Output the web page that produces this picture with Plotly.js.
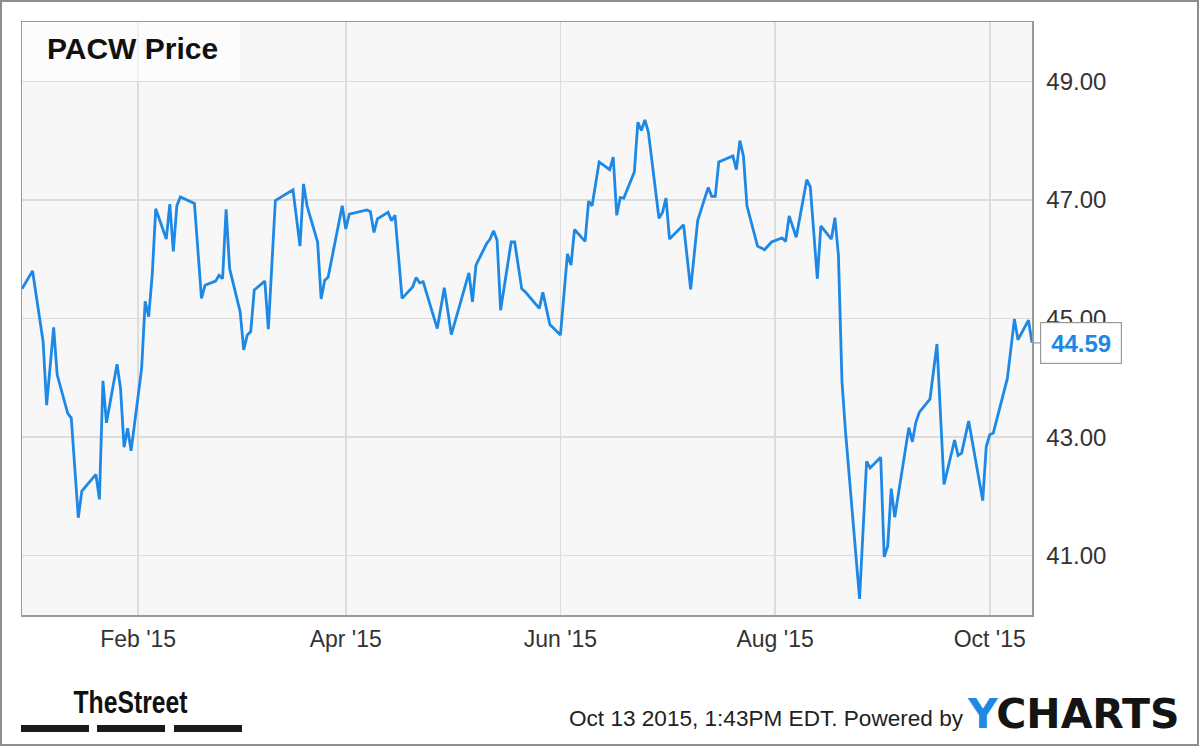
<!DOCTYPE html>
<html>
<head>
<meta charset="utf-8">
<script src="https://cdn.plot.ly/plotly-3.0.1.min.js"></script>
<style>
  body { margin: 0; background: #fff; }
  #chart { width: 1200px; height: 747px; }
  #frame { position: absolute; left: 0; top: 0; width: 1199px; height: 746px;
           border: 2px solid #8e8e8e; box-sizing: border-box; pointer-events: none; }
</style>
</head>
<body>
<div id="chart"></div>
<div id="frame"></div>
<script>
// PACW daily close
var dates = [
  '2014-12-30', '2015-01-02', '2015-01-05', '2015-01-06', '2015-01-08', '2015-01-09',
  '2015-01-12', '2015-01-13', '2015-01-15', '2015-01-16', '2015-01-20', '2015-01-21',
  '2015-01-22', '2015-01-23', '2015-01-26', '2015-01-27', '2015-01-28', '2015-01-29',
  '2015-01-30', '2015-02-02', '2015-02-03', '2015-02-04', '2015-02-05', '2015-02-06',
  '2015-02-09', '2015-02-10', '2015-02-11', '2015-02-12', '2015-02-13', '2015-02-17',
  '2015-02-19', '2015-02-20', '2015-02-23', '2015-02-24', '2015-02-25', '2015-02-26',
  '2015-02-27', '2015-03-02', '2015-03-03', '2015-03-04', '2015-03-05', '2015-03-06',
  '2015-03-09', '2015-03-10', '2015-03-12', '2015-03-16', '2015-03-17', '2015-03-19',
  '2015-03-20', '2015-03-21', '2015-03-24', '2015-03-25', '2015-03-26', '2015-03-27',
  '2015-03-31', '2015-04-01', '2015-04-02', '2015-04-07', '2015-04-08', '2015-04-09',
  '2015-04-10', '2015-04-13', '2015-04-14', '2015-04-15', '2015-04-17', '2015-04-20',
  '2015-04-21', '2015-04-22', '2015-04-23', '2015-04-27', '2015-04-29', '2015-05-01',
  '2015-05-06', '2015-05-07', '2015-05-08', '2015-05-11', '2015-05-12', '2015-05-13',
  '2015-05-14', '2015-05-15', '2015-05-18', '2015-05-19', '2015-05-21', '2015-05-22',
  '2015-05-26', '2015-05-27', '2015-05-29', '2015-06-01', '2015-06-03', '2015-06-04',
  '2015-06-05', '2015-06-08', '2015-06-09', '2015-06-10', '2015-06-12', '2015-06-15',
  '2015-06-16', '2015-06-17', '2015-06-18', '2015-06-19', '2015-06-22', '2015-06-23',
  '2015-06-24', '2015-06-25', '2015-06-26', '2015-06-29', '2015-06-30', '2015-07-01',
  '2015-07-02', '2015-07-06', '2015-07-08', '2015-07-10', '2015-07-13', '2015-07-14',
  '2015-07-15', '2015-07-16', '2015-07-20', '2015-07-21', '2015-07-22', '2015-07-23',
  '2015-07-24', '2015-07-27', '2015-07-29', '2015-07-31', '2015-08-03', '2015-08-04',
  '2015-08-05', '2015-08-07', '2015-08-10', '2015-08-11', '2015-08-13', '2015-08-14',
  '2015-08-17', '2015-08-18', '2015-08-19', '2015-08-20', '2015-08-21', '2015-08-25',
  '2015-08-27', '2015-08-28', '2015-08-31', '2015-09-01', '2015-09-02', '2015-09-03',
  '2015-09-04', '2015-09-08', '2015-09-09', '2015-09-10', '2015-09-11', '2015-09-14',
  '2015-09-16', '2015-09-18', '2015-09-21', '2015-09-22', '2015-09-23', '2015-09-25',
  '2015-09-29', '2015-09-30', '2015-10-01', '2015-10-02', '2015-10-06', '2015-10-08',
  '2015-10-09', '2015-10-12', '2015-10-13'
];
var prices = [
  45.50, 45.80, 44.61, 43.54, 44.85, 44.05,
  43.40, 43.32, 41.64, 42.09, 42.37, 41.95,
  43.95, 43.24, 44.23, 43.82, 42.83, 43.15,
  42.77, 44.16, 45.29, 45.03, 45.73, 46.85,
  46.34, 46.93, 46.13, 46.90, 47.05, 46.94,
  45.34, 45.56, 45.63, 45.73, 45.67, 46.84,
  45.84, 45.11, 44.47, 44.72, 44.78, 45.48,
  45.63, 44.82, 46.99, 47.13, 47.17, 46.22,
  47.27, 46.90, 46.29, 45.33, 45.64, 45.70,
  46.90, 46.51, 46.76, 46.83, 46.80, 46.45,
  46.68, 46.79, 46.65, 46.74, 45.34, 45.53,
  45.69, 45.60, 45.62, 44.83, 45.52, 44.73,
  45.77, 45.28, 45.90, 46.26, 46.34, 46.48,
  46.32, 45.14, 46.29, 46.29, 45.50, 45.45,
  45.17, 45.44, 44.90, 44.72, 46.09, 45.90,
  46.50, 46.30, 46.98, 46.90, 47.64, 47.51,
  47.72, 46.74, 47.04, 47.03, 47.47, 48.31,
  48.17, 48.35, 48.14, 46.69, 46.79, 47.03,
  46.34, 46.58, 45.49, 46.65, 47.21, 47.06,
  47.06, 47.64, 47.74, 47.51, 48.00, 47.74,
  46.90, 46.22, 46.16, 46.29, 46.36, 46.30,
  46.73, 46.37, 47.34, 47.22, 45.67, 46.56,
  46.34, 46.70, 46.06, 43.94, 43.10, 40.27,
  42.59, 42.48, 42.66, 40.98, 41.16, 42.13,
  41.65, 43.16, 42.92, 43.25, 43.42, 43.64,
  44.57, 42.20, 42.95, 42.69, 42.73, 43.27,
  41.93, 42.84, 43.04, 43.07, 43.99, 44.99,
  44.64, 44.97, 44.59
];
var tickDates = ['2015-02-01', '2015-04-01', '2015-06-01', '2015-08-01', '2015-10-01'];
var tickLabels = ["Feb '15", "Apr '15", "Jun '15", "Aug '15", "Oct '15"];
var yTicks = [41, 43, 45, 47, 49];

var lastDate = dates[dates.length - 1];
var lastPrice = prices[prices.length - 1];
var blue = '#1e88e5';
var footerText = 'Oct 13 2015, 1:43PM EDT. Powered by';

var trace = {
  x: dates,
  y: prices,
  type: 'scatter',
  mode: 'lines',
  line: { color: blue, width: 2.8 },
  hoverinfo: 'skip'
};

var bar = function (x0, x1) {
  return { type: 'rect', xref: 'paper', yref: 'paper', x0: x0, x1: x1, y0: -0.1973, y1: -0.1855,
           fillcolor: '#1a1a1a', line: { width: 0 } };
};

var layout = {
  width: 1200,
  height: 747,
  margin: { l: 22, r: 168, t: 22, b: 132 },
  paper_bgcolor: '#ffffff',
  plot_bgcolor: '#f7f7f7',
  showlegend: false,
  font: { family: 'Liberation Sans, Arial, sans-serif', color: '#333', size: 24 },
  xaxis: {
    type: 'date',
    range: ['2014-12-30', lastDate],
    tickvals: tickDates,
    ticktext: tickLabels,
    ticks: '',
    ticklabelstandoff: 3,
    showgrid: true,
    gridcolor: '#dcdcdc',
    gridwidth: 1.5,
    zeroline: false,
    showline: true,
    linecolor: '#999',
    linewidth: 1.5,
    mirror: true,
    tickfont: { size: 23, color: '#333' }
  },
  yaxis: {
    side: 'right',
    range: [40, 50],
    tickvals: yTicks,
    tickformat: '.2f',
    ticks: '',
    ticklabelstandoff: 8,
    showgrid: true,
    gridcolor: '#dcdcdc',
    gridwidth: 1.5,
    zeroline: false,
    showline: true,
    linecolor: '#999',
    linewidth: 1.5,
    mirror: true,
    tickfont: { size: 24, color: '#333' }
  },
  shapes: [
    { type: 'rect', xref: 'paper', yref: 'paper', x0: 0, x1: 0.2158, y0: 0.9005, y1: 1,
      fillcolor: 'rgba(255,255,255,0.6)', line: { width: 0 }, layer: 'above' },
    bar(-0.001, 0.0663), bar(0.0743, 0.1416), bar(0.1505, 0.2178)
  ],
  annotations: [
    { xref: 'paper', yref: 'paper', x: 0.0228, y: 0.9545, xanchor: 'left', yanchor: 'middle',
      text: '<b>PACW Price</b>', showarrow: false,
      font: { size: 30, color: '#111', family: 'Liberation Sans, Arial, sans-serif' } },
    { xref: 'x', yref: 'y', x: lastDate, y: lastPrice, text: '<b>' + lastPrice.toFixed(2) + '</b>',
      showarrow: true, arrowhead: 0, arrowwidth: 1.2, arrowcolor: '#999', ax: 49, ay: 0,
      bgcolor: '#ffffff', bordercolor: '#999', borderwidth: 1.2, borderpad: 3,
      width: 74, height: 34,
      font: { size: 24, color: blue, family: 'Liberation Sans, Arial, sans-serif' } },
    { xref: 'paper', yref: 'paper', x: 0.9287, y: -0.1737, xanchor: 'right', yanchor: 'middle',
      text: footerText, showarrow: false,
      font: { size: 22, color: '#222', family: 'Liberation Sans, Arial, sans-serif' } },
    { xref: 'paper', yref: 'paper', x: 0.9337, y: -0.1665, xanchor: 'left', yanchor: 'middle',
      text: '<b><span style="color:' + blue + '">Y</span>CHARTS</b>', showarrow: false,
      font: { size: 41, color: '#141414', family: 'DejaVu Sans, sans-serif' } },
    { xref: 'paper', yref: 'paper', x: 0.1079, y: -0.1470, xanchor: 'center', yanchor: 'middle',
      text: 'TheStreet', showarrow: false,
      font: { size: 31, color: '#111', weight: 'bold', family: 'Liberation Sans, Arial, sans-serif' } }
  ]
};

// squeeze condensed logo / footer text to the widths seen in the original
function squeeze() {
  var widths = { 'TheStreet': 114, };
  widths[footerText] = 394;
  document.querySelectorAll('#chart .annotation-text').forEach(function (el) {
    var w = widths[el.textContent];
    if (w) {
      el.setAttribute('textLength', w);
      el.setAttribute('lengthAdjust', 'spacingAndGlyphs');
    }
  });
}

Plotly.newPlot('chart', [trace], layout, { staticPlot: true }).then(squeeze);
</script>
</body>
</html>
